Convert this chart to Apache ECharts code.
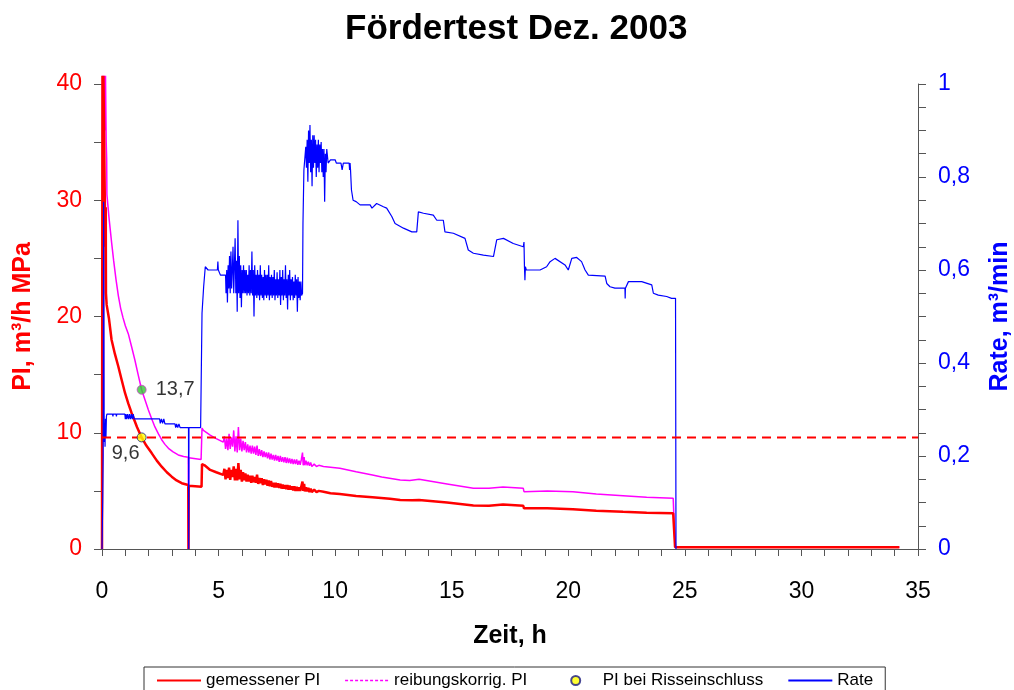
<!DOCTYPE html>
<html lang="de">
<head>
<meta charset="utf-8">
<title>Fördertest Dez. 2003</title>
<script src="https://cdn.jsdelivr.net/npm/echarts@6/dist/echarts.min.js"></script>
<style>
  html, body { margin: 0; padding: 0; background: #fff; overflow: hidden; }
  #chart { width: 1014px; height: 690px; }
</style>
</head>
<body>
<div id="chart"></div>
<script>
// Zeit in h, PI in m³/h MPa (linke Achse), Rate in m³/min (rechte Achse)

const gemessenerPI = [
  [0, 0], [0.02, 40.7], [0.04, 12], [0.06, 40.7], [0.09, 36], [0.12, 30], [0.15, 26],
  [0.16, 29.4], [0.17, 22], [0.2, 21], [0.3, 19.8], [0.41, 18], [0.55, 16.8],
  [0.7, 15.7], [0.85, 14.5], [0.99, 13.4], [1.13, 12.5], [1.27, 11.7], [1.5, 10.5],
  [1.7, 9.6], [1.9, 8.9], [2.13, 8.25], [2.35, 7.6], [2.56, 7.08], [2.78, 6.6],
  [2.99, 6.22], [3.2, 5.9], [3.42, 5.66], [3.7, 5.5], [3.71, 0], [3.72, 5.45],
  [4.27, 5.36], [4.29, 7.3], [4.4, 7.2], [4.64, 6.8], [4.9, 6.6], [5.2, 6.37],
  [5.25, 6.9], [5.3, 6.0], [5.35, 6.8], [5.4, 6.1], [5.45, 7.0], [5.5, 5.95],
  [5.55, 6.8], [5.6, 6.2], [5.65, 7.1], [5.7, 5.9], [5.75, 6.9], [5.8, 5.9],
  [5.85, 7.4], [5.9, 6.0], [5.95, 6.8], [6.0, 5.8], [6.05, 6.6], [6.1, 5.9],
  [6.15, 6.5], [6.2, 5.8], [6.25, 6.4], [6.3, 5.8], [6.35, 6.3], [6.4, 5.7],
  [6.45, 6.3], [6.5, 5.75], [6.55, 6.2], [6.6, 5.7], [6.65, 6.4], [6.7, 5.6],
  [6.75, 6.1], [6.8, 5.65], [6.85, 6.1], [6.9, 5.5], [6.95, 6.0], [7.0, 5.55],
  [7.05, 5.95], [7.1, 5.45], [7.15, 5.9], [7.2, 5.4], [7.25, 5.85], [7.3, 5.35],
  [7.35, 5.7], [7.4, 5.3], [7.45, 5.7], [7.5, 5.3], [7.55, 5.65], [7.6, 5.25],
  [7.65, 5.6], [7.7, 5.2], [7.75, 5.55], [7.8, 5.2], [7.85, 5.5], [7.9, 5.15],
  [7.95, 5.5], [8.0, 5.1], [8.05, 5.45], [8.1, 5.1], [8.15, 5.4], [8.2, 5.05],
  [8.25, 5.4], [8.3, 5.0], [8.35, 5.35], [8.4, 5.0], [8.45, 5.3], [8.5, 5.0],
  [8.55, 5.4], [8.6, 5.8], [8.63, 5.0], [8.67, 5.6], [8.7, 4.95], [8.75, 5.3],
  [8.8, 4.95], [8.85, 5.25], [8.9, 4.9], [8.95, 5.2], [9.0, 4.9], [9.1, 5.1],
  [9.2, 4.9], [9.3, 5.0], [9.5, 4.93], [9.8, 4.8], [10.2, 4.73],
  [10.9, 4.56], [11.6, 4.45], [12.35, 4.33], [12.79, 4.22], [13.3, 4.2],
  [13.35, 4.3], [13.6, 4.22], [14.8, 3.99], [15.93, 3.75], [16.6, 3.72],
  [16.65, 3.86], [17.2, 3.82], [18.07, 3.72], [18.1, 3.5], [19.1, 3.5],
  [20.2, 3.41], [21.2, 3.3], [22.35, 3.2], [23.36, 3.12], [24.5, 3.07],
  [24.57, 3.07], [24.58, 0.15], [34.2, 0.15]
];

const reibungskorrPI = [
  [0, 0], [0.03, 40.7], [0.06, 38], [0.09, 40.7], [0.12, 36], [0.15, 40.7],
  [0.18, 35], [0.2, 33.6], [0.21, 30.5], [0.3, 28.5], [0.41, 26.4], [0.5, 24.8],
  [0.6, 23.2], [0.7, 21.8], [0.8, 20.7], [0.9, 19.9], [1.0, 19.2], [1.13, 18.5],
  [1.27, 17.4], [1.41, 16.26], [1.55, 15.0], [1.7, 13.7], [1.85, 12.8],
  [1.99, 11.96], [2.13, 11.2], [2.27, 10.5], [2.42, 9.9], [2.56, 9.4], [2.7, 9.0],
  [2.85, 8.66], [3.05, 8.35], [3.27, 8.09], [3.5, 7.95], [3.7, 7.9], [3.71, 0],
  [3.72, 7.85], [4.25, 7.7], [4.29, 10.4], [4.35, 10.2], [4.64, 9.8], [4.9, 9.5],
  [5.2, 9.2], [5.25, 9.7], [5.3, 8.6], [5.35, 9.5], [5.4, 8.5], [5.45, 9.9],
  [5.5, 8.6], [5.55, 9.6], [5.6, 8.8], [5.65, 10.2], [5.7, 8.4], [5.75, 9.7],
  [5.8, 8.3], [5.85, 10.5], [5.9, 8.5], [5.95, 9.5], [6.0, 8.4], [6.05, 9.3],
  [6.1, 8.5], [6.15, 9.2], [6.2, 8.3], [6.25, 9.0], [6.3, 8.3], [6.35, 8.9],
  [6.4, 8.2], [6.45, 8.9], [6.5, 8.2], [6.55, 8.8], [6.6, 8.1], [6.65, 8.9],
  [6.7, 8.0], [6.75, 8.6], [6.8, 8.0], [6.85, 8.5], [6.9, 7.9], [6.95, 8.4],
  [7.0, 7.9], [7.05, 8.3], [7.1, 7.8], [7.15, 8.3], [7.2, 7.7], [7.25, 8.2],
  [7.3, 7.7], [7.35, 8.1], [7.4, 7.6], [7.45, 8.1], [7.5, 7.6], [7.55, 8.0],
  [7.6, 7.5], [7.65, 8.0], [7.7, 7.5], [7.75, 7.9], [7.8, 7.45], [7.85, 7.9],
  [7.9, 7.4], [7.95, 7.85], [8.0, 7.4], [8.05, 7.8], [8.1, 7.35], [8.15, 7.75],
  [8.2, 7.3], [8.25, 7.7], [8.3, 7.3], [8.35, 7.7], [8.4, 7.25], [8.45, 7.6],
  [8.5, 7.25], [8.55, 7.7], [8.6, 8.3], [8.63, 7.2], [8.67, 7.9], [8.7, 7.2],
  [8.75, 7.6], [8.8, 7.2], [8.85, 7.5], [8.9, 7.15], [8.95, 7.45], [9.0, 7.1],
  [9.1, 7.3], [9.2, 7.1], [9.3, 7.2], [9.5, 7.1], [10.2, 6.94],
  [10.9, 6.65], [11.6, 6.37], [12.0, 6.2], [12.79, 5.94], [13.2, 5.9],
  [13.25, 6.05], [13.6, 6.0], [14.8, 5.6], [15.93, 5.22], [16.6, 5.22],
  [16.65, 5.36], [17.2, 5.34], [18.07, 5.22], [18.1, 4.93], [19.1, 4.99],
  [20.2, 4.93], [21.2, 4.73], [22.35, 4.59], [23.36, 4.45], [24.5, 4.36],
  [24.57, 4.36], [24.58, 0.15], [34.2, 0.15]
];

const rate = [
  [0, 0], [0.03, 0.1], [0.05, 0.2], [0.07, 0.747], [0.09, 0.3], [0.1, 0.23],
  [0.12, 0.27], [0.13, 0.22], [0.15, 0.28], [0.17, 0.24], [0.19, 0.285],
  [0.21, 0.29], [0.45, 0.29], [0.47, 0.285], [0.48, 0.29], [0.6, 0.29],
  [0.62, 0.285], [0.63, 0.29], [0.98, 0.29], [1.0, 0.279], [1.03, 0.29],
  [1.06, 0.279], [1.1, 0.29], [1.14, 0.279], [1.18, 0.29], [1.22, 0.279],
  [1.26, 0.29], [1.3, 0.279], [1.34, 0.29], [1.38, 0.28], [2.47, 0.28],
  [2.5, 0.27], [2.55, 0.28], [2.6, 0.27], [2.65, 0.28], [2.7, 0.269],
  [3.13, 0.269], [3.16, 0.261], [3.2, 0.269], [3.25, 0.261], [3.3, 0.269],
  [3.35, 0.261], [3.71, 0.261], [3.72, 0], [3.73, 0.261], [4.23, 0.261],
  [4.25, 0.263], [4.29, 0.507], [4.36, 0.564], [4.43, 0.607], [4.5, 0.61],
  [4.55, 0.6], [4.95, 0.6], [4.97, 0.618], [4.99, 0.6], [5.06, 0.6],
  [5.08, 0.589], [5.3, 0.589],
  [5.32, 0.55], [5.35, 0.6], [5.38, 0.53], [5.41, 0.61], [5.44, 0.56],
  [5.47, 0.63], [5.5, 0.55], [5.53, 0.64], [5.56, 0.56], [5.59, 0.6],
  [5.62, 0.65], [5.65, 0.55], [5.68, 0.61], [5.71, 0.668], [5.74, 0.55],
  [5.77, 0.62], [5.8, 0.51], [5.83, 0.707], [5.86, 0.55], [5.89, 0.63],
  [5.92, 0.54], [5.95, 0.61], [5.98, 0.52], [6.01, 0.6], [6.04, 0.55],
  [6.07, 0.61], [6.1, 0.55], [6.13, 0.6], [6.16, 0.55], [6.19, 0.6],
  [6.22, 0.545], [6.25, 0.59], [6.28, 0.55], [6.31, 0.61], [6.34, 0.545],
  [6.37, 0.6], [6.4, 0.55], [6.43, 0.64], [6.46, 0.545], [6.49, 0.6],
  [6.52, 0.5], [6.55, 0.61], [6.58, 0.545], [6.61, 0.59], [6.64, 0.54],
  [6.67, 0.6], [6.7, 0.545], [6.73, 0.59], [6.76, 0.535], [6.79, 0.61],
  [6.82, 0.545], [6.85, 0.59], [6.88, 0.54], [6.91, 0.585], [6.94, 0.535],
  [6.97, 0.6], [7.0, 0.545], [7.03, 0.59], [7.06, 0.54], [7.09, 0.59],
  [7.12, 0.545], [7.15, 0.61], [7.18, 0.535], [7.21, 0.585], [7.24, 0.545],
  [7.27, 0.59], [7.3, 0.54], [7.33, 0.585], [7.36, 0.545], [7.39, 0.6],
  [7.42, 0.535], [7.45, 0.58], [7.48, 0.545], [7.51, 0.595], [7.54, 0.54],
  [7.57, 0.58], [7.6, 0.545], [7.63, 0.6], [7.66, 0.525], [7.69, 0.585],
  [7.72, 0.545], [7.75, 0.6], [7.78, 0.535], [7.81, 0.58], [7.84, 0.545],
  [7.87, 0.61], [7.9, 0.54], [7.93, 0.58], [7.96, 0.515], [7.99, 0.59],
  [8.02, 0.545], [8.05, 0.6], [8.08, 0.535], [8.11, 0.58], [8.14, 0.545],
  [8.17, 0.585], [8.2, 0.535], [8.23, 0.575], [8.26, 0.54], [8.29, 0.59],
  [8.32, 0.545], [8.35, 0.58], [8.38, 0.51], [8.41, 0.585], [8.44, 0.54],
  [8.47, 0.575], [8.5, 0.535], [8.53, 0.575], [8.56, 0.545], [8.6, 0.55],
  [8.62, 0.7], [8.66, 0.815], [8.74, 0.865],
  [8.77, 0.82], [8.8, 0.88], [8.83, 0.79], [8.86, 0.9], [8.89, 0.83],
  [8.92, 0.912], [8.95, 0.81], [8.98, 0.88], [9.01, 0.78], [9.04, 0.89],
  [9.07, 0.82], [9.1, 0.89], [9.13, 0.83], [9.16, 0.88], [9.19, 0.8],
  [9.22, 0.87], [9.25, 0.82], [9.28, 0.88], [9.31, 0.81], [9.34, 0.87],
  [9.37, 0.83], [9.4, 0.875], [9.43, 0.81], [9.46, 0.86], [9.49, 0.8],
  [9.52, 0.86], [9.55, 0.747], [9.58, 0.85], [9.61, 0.81], [9.64, 0.86],
  [9.7, 0.83], [9.75, 0.83], [9.8, 0.837], [10.0, 0.837], [10.05, 0.83],
  [10.25, 0.83], [10.3, 0.815], [10.35, 0.83], [10.6, 0.83], [10.62, 0.815],
  [10.64, 0.83], [10.66, 0.815], [10.7, 0.772], [10.77, 0.75], [10.9, 0.747],
  [11.07, 0.74], [11.5, 0.74], [11.58, 0.733], [11.78, 0.743], [12.07, 0.736],
  [12.21, 0.733], [12.43, 0.715], [12.57, 0.7], [12.93, 0.69], [13.29, 0.682],
  [13.5, 0.682], [13.57, 0.725], [13.64, 0.729], [13.79, 0.722], [14.21, 0.718],
  [14.36, 0.707], [14.64, 0.707], [14.71, 0.682], [15.07, 0.679], [15.57, 0.668],
  [15.71, 0.643], [15.93, 0.636], [16.36, 0.632], [16.79, 0.629], [16.93, 0.665],
  [17.22, 0.668], [17.64, 0.657], [18.07, 0.65], [18.1, 0.66], [18.12, 0.607],
  [18.14, 0.578], [18.16, 0.607], [18.2, 0.6], [18.79, 0.6], [19.07, 0.607],
  [19.22, 0.618], [19.43, 0.625], [19.86, 0.611], [20.0, 0.6], [20.15, 0.625],
  [20.36, 0.627], [20.57, 0.618], [20.72, 0.6], [20.86, 0.589], [20.93, 0.587],
  [21.58, 0.587], [21.65, 0.571], [21.79, 0.564], [22.0, 0.561], [22.43, 0.561],
  [22.44, 0.539], [22.45, 0.561], [22.58, 0.575], [23.15, 0.575], [23.58, 0.568],
  [23.65, 0.55], [23.86, 0.546], [24.22, 0.543], [24.43, 0.539], [24.6, 0.539],
  [24.62, 0]
];

// PI bei Risseinschluss (reibungskorrigiert / gemessen)
const risseinschluss = [[1.7, 13.7], [1.7, 9.6]];
const risseinschlussLinie = [[0, 9.6], [35, 9.6]];

const achsenGrau = "#555";
const komma = (v) => String(Math.round(v * 10) / 10).replace(".", ",");
// Linien-Icons in der Legende ohne Punkt in der Mitte
const ohnePunkt = { opacity: 0 };

const chart = echarts.init(document.getElementById("chart"));

const option = {
  animation: false,
  backgroundColor: "#fff",
  textStyle: { fontFamily: "Liberation Sans, Arial, sans-serif" },
  title: {
    text: "Fördertest Dez. 2003",
    left: 340,
    top: 7,
    textStyle: { fontSize: 35, fontWeight: "bold", color: "#000" },
  },
  grid: {
    left: 102,
    right: 96,
    top: 84,
    bottom: 141,
    containLabel: false,
    outerBoundsMode: "none",
  },
  legend: {
    left: 144,
    top: 667,
    padding: [5, 12, 5, 12],
    itemWidth: 44,
    itemHeight: 9,
    itemGap: 24,
    borderColor: "#333",
    borderWidth: 1,
    textStyle: { fontSize: 17, color: "#000" },
    // etwas mehr Abstand vor dem Punkt-Symbol
    formatter: (name) => (name === "reibungskorrig. PI" ? name + "    " : name),
    data: [
      { name: "gemessener PI", itemStyle: ohnePunkt },
      {
        name: "reibungskorrig. PI",
        itemStyle: ohnePunkt,
        lineStyle: { type: [3, 2], width: 1.5 },
      },
      { name: "PI bei Risseinschluss", icon: "circle" },
      { name: "Rate", itemStyle: ohnePunkt },
    ],
  },
  xAxis: {
    type: "value",
    min: 0,
    max: 35,
    interval: 5,
    name: "Zeit, h",
    nameLocation: "middle",
    nameGap: 75,
    nameTextStyle: { fontSize: 25, fontWeight: "bold", color: "#000" },
    axisLine: { lineStyle: { color: achsenGrau, width: 1 } },
    axisTick: { length: 7, lineStyle: { color: achsenGrau } },
    minorTick: { show: true, splitNumber: 5, length: 7, lineStyle: { color: achsenGrau } },
    axisLabel: { fontSize: 23, color: "#000", margin: 31 },
    splitLine: { show: false },
  },
  yAxis: [
    {
      type: "value",
      min: 0,
      max: 40,
      interval: 10,
      name: "PI, m³/h MPa",
      nameLocation: "middle",
      nameRotate: 90,
      nameGap: 66,
      nameTextStyle: { fontSize: 25, fontWeight: "bold", color: "#ff0000" },
      axisLine: { show: true, lineStyle: { color: achsenGrau } },
      axisTick: { show: true, length: 8, lineStyle: { color: achsenGrau } },
      minorTick: { show: true, splitNumber: 2, length: 8, lineStyle: { color: achsenGrau } },
      axisLabel: { fontSize: 23, color: "#ff0000", margin: 20 },
      splitLine: { show: false },
    },
    {
      type: "value",
      min: 0,
      max: 1,
      interval: 0.2,
      position: "right",
      name: "Rate, m³/min",
      nameLocation: "middle",
      nameRotate: 90,
      nameGap: 70,
      nameTextStyle: { fontSize: 25, fontWeight: "bold", color: "#0000ff" },
      axisLine: { show: true, lineStyle: { color: achsenGrau } },
      axisTick: { show: true, length: 8, lineStyle: { color: achsenGrau } },
      minorTick: { show: true, splitNumber: 4, length: 8, lineStyle: { color: achsenGrau } },
      axisLabel: { fontSize: 23, color: "#0000ff", margin: 20, formatter: komma },
      splitLine: { show: false },
    },
  ],
  series: [
    {
      name: "reibungskorrig. PI",
      type: "line",
      data: reibungskorrPI,
      symbol: "none",
      clip: false,
      color: "#ff00ff",
      lineStyle: { color: "#ff00ff", width: 1.5 },
      z: 2,
    },
    {
      name: "gemessener PI",
      type: "line",
      data: gemessenerPI,
      symbol: "none",
      clip: false,
      color: "#ff0000",
      lineStyle: { color: "#ff0000", width: 2.5 },
      z: 3,
    },
    {
      name: "Rate",
      type: "line",
      yAxisIndex: 1,
      data: rate,
      symbol: "none",
      color: "#0000ff",
      lineStyle: { color: "#0000ff", width: 1.2 },
      z: 4,
    },
    {
      // gestrichelte Linie bei PI = 9,6
      name: "Risseinschluss-Linie",
      type: "line",
      data: risseinschlussLinie,
      symbol: "none",
      lineStyle: { color: "#ff0000", width: 2, type: [9, 6] },
      z: 5,
    },
    {
      name: "PI bei Risseinschluss",
      type: "scatter",
      symbolSize: 9,
      color: "#ffff00",
      itemStyle: { color: "#ffff00", borderColor: "#1a1a80", borderWidth: 1 },
      z: 6,
      data: [
        {
          value: risseinschluss[0],
          itemStyle: { color: "#33cc33", borderColor: "#cc44cc", borderWidth: 1 },
          label: { show: true, position: "right", distance: 9 },
        },
        {
          value: risseinschluss[1],
          label: { show: true, position: "bottom", distance: 1, offset: [-16, 0] },
        },
      ],
      label: {
        fontSize: 20,
        color: "#000",
        formatter: (p) => komma(p.value[1]),
      },
    },
  ],
};

chart.setOption(option);
</script>
</body>
</html>
